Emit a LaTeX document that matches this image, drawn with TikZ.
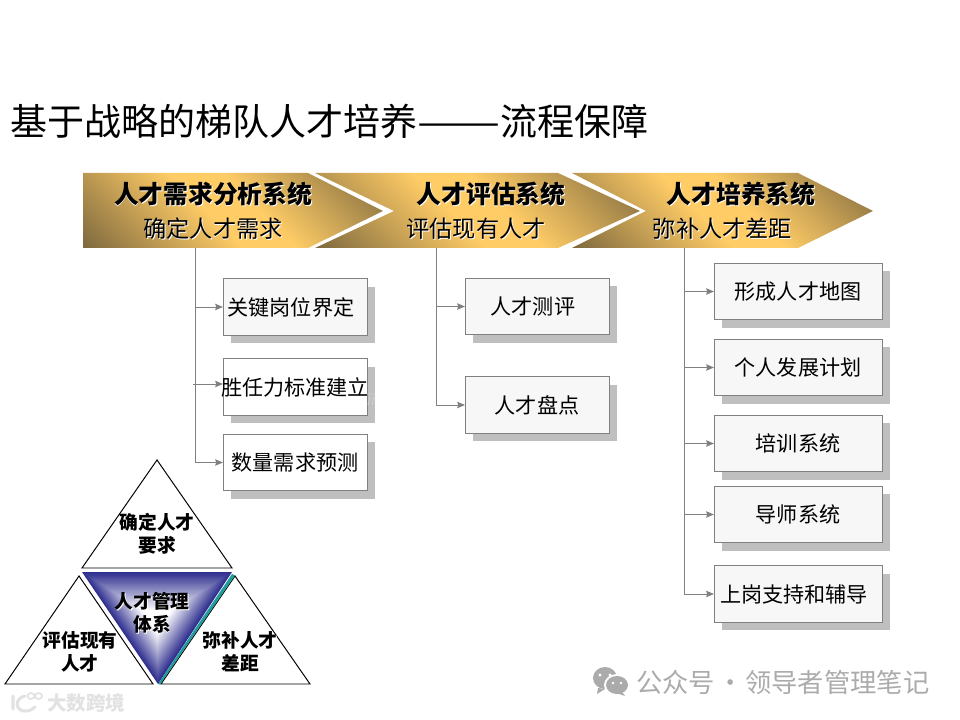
\documentclass[tikz,border=0pt]{standalone}
\usepackage{fontspec}
\setmainfont{Noto Sans CJK SC}
\usetikzlibrary{arrows.meta,shadows}
\definecolor{figGold}{HTML}{FFCC66}
\definecolor{figBrown}{HTML}{7F6A3F}
\definecolor{figLine}{HTML}{808080}
\definecolor{figShadow}{HTML}{BFBFBF}
\definecolor{figBlue}{HTML}{2E2E8F}
\definecolor{figTeal}{HTML}{1F9C9C}
\definecolor{figMark}{HTML}{ABABAB}
\definecolor{figBoxFill}{HTML}{F7F7F7}
\definecolor{figBoxGhost}{HTML}{E2E2E2}
\pgfdeclareverticalshading{goldband}{100bp}{color(0bp)=(figBrown); color(15bp)=(figBrown); color(45bp)=(figGold); color(55bp)=(figGold); color(85bp)=(figBrown); color(100bp)=(figBrown)}
\newcommand{\halotext}[1]{\rlap{\hspace{0.7pt}\raisebox{-0.7pt}{\textcolor{white}{#1}}}#1}
\tikzset{
  sysarrow/.style={shading=goldband,shading angle=-45},
  systitle/.style={font=\fontsize{17.6pt}{20pt}\selectfont\bfseries},
  syssub/.style={font=\fontsize{16.5pt}{20pt}\selectfont},
  stepbox/.style={draw=figLine,line width=0.6pt,fill=#1,inner sep=0pt,outer sep=0pt,minimum height=40.2pt,
    font=\fontsize{15pt}{18pt}\selectfont,
    general shadow={shadow xshift=5.7pt,shadow yshift=-5.7pt,fill=figShadow}},
  stepbox/.default=white,
  link/.style={->,draw=figLine,line width=0.7pt},
  tribox/.style={draw=black,line width=0.7pt,fill=white},
  trilabel/.style={align=center,inner sep=0pt,font=\fontsize{13.3pt}{16.4pt}\selectfont\bfseries},
}
\begin{document}
\begin{tikzpicture}[x=0.025cm,y=-0.025cm,>={Stealth[length=5.5pt,width=4.5pt,inset=0.6pt]}]
\useasboundingbox (0,0) rectangle (960,720);
% Title
\node[anchor=west,inner sep=0pt,font=\fontsize{26.3pt}{30pt}\selectfont] (title) at (10,121) {基于战略的梯队人才培养\scalebox{1.34}[1]{——}流程保障};
% Three system arrows
\shade[sysarrow] (83,173) -- (308,173) -- (383,211) -- (308,248) -- (83,248) -- cycle;
\shade[sysarrow] (315,173) -- (558,173) -- (640,211) -- (558,248) -- (315,248) -- (394,211) -- cycle;
\shade[sysarrow] (572,173) -- (798,173) -- (873,211) -- (798,248) -- (572,248) -- (646,211) -- cycle;
\node[systitle] (needT) at (213,195) {\halotext{人才需求分析系统}};
\node[syssub] (needS) at (213,229) {\halotext{确定人才需求}};
\node[systitle] (evalT) at (491,195) {\halotext{人才评估系统}};
\node[syssub] (evalS) at (476,229) {\halotext{评估现有人才}};
\node[systitle] (growT) at (741,195) {\halotext{人才培养系统}};
\node[syssub] (growS) at (722.5,229) {\halotext{弥补人才差距}};
% Trunk starts
\coordinate (needO) at (195,248);
\coordinate (evalO) at (436,248);
\coordinate (growO) at (684,248);
% Left column
\node[stepbox=figBoxFill,minimum width=102.4pt] (post) at (295,307) {\hspace{-5.7pt}关键岗位界定};
\node[stepbox,minimum width=102.4pt] (comp) at (295,387) {\makebox[0pt]{胜任力标准建立}};
\node[stepbox,minimum width=102.4pt] (count) at (295,462.5) {数量需求预测};
\coordinate (compO) at (193,384);
\draw[link] (needO) |- (post.west);
\draw[link] (compO) -- (compO -| comp.west);
\draw[link] (needO) |- (count.west);
\draw[figShadow!70!white,line width=0.6pt] (367,394) -- (375,394) (370,397) -- (368,405) (374,397) -- (372,405);
% Middle column
\node[stepbox=figBoxFill,minimum width=102.4pt] (test) at (537,306.5) {\hspace{-5.7pt}人才测评};
\node[stepbox=figBoxFill,minimum width=102.4pt] (stock) at (537,405) {人才盘点};
\draw[link] (evalO) |- (test.west);
\draw[link] (evalO) |- (stock.west);
% Right column
\node[stepbox=figBoxFill,minimum width=119.5pt] (map) at (798,291.5) {形成人才地图};
\node[stepbox=figBoxFill,minimum width=119.5pt] (plan) at (798,367.5) {个人发展计划};
\node[stepbox=figBoxFill,minimum width=119.5pt] (train) at (798,443.5) {培训系统};
\node[stepbox=figBoxFill,minimum width=119.5pt] (tutor) at (798,514.5) {导师系统};
\node[stepbox=figBoxFill,minimum width=119.5pt] (coach) at (798,594) {\hspace{-5.7pt}上岗支持和辅导};
\draw[link] (growO) |- (map.west);
\draw[link] (growO) |- (plan.west);
\draw[link] (growO) |- (train.west);
\draw[link] (growO) |- (tutor.west);
\draw[link] (growO) |- (coach.west);
% Triangles
\draw[tribox] (157,460) -- (82,568) -- (232,568) -- cycle;
\draw[tribox] (79,576) -- (5,684) -- (153,684) -- cycle;
\draw[tribox] (235,576) -- (161,684) -- (310,684) -- cycle;
\coordinate (coreC) at (157,620);
\foreach \k in {0,...,40} {
  \pgfmathsetmacro{\ratio}{1-\k/40}
  \pgfmathsetmacro{\tint}{max(0,min(100,(\ratio-0.2)/0.8*100))}
  \fill[figBlue!\tint!white,scale around={\ratio:(coreC)}] (82,572) -- (232,572) -- (158,684) -- cycle;
}
\fill[figTeal] (232,574) -- (235,575.5) -- (160,684.5) -- (158,684) -- cycle;
\node[trilabel] (triNeed) at (157,534.5) {\halotext{确定人才}\\\halotext{要求}};
\node[trilabel] (triEval) at (80,652) {\halotext{评估现有}\\\halotext{人才}};
\node[trilabel] (triCore) at (152,613.5) {\halotext{人才管理}\\\halotext{体系}};
\node[trilabel] (triGrow) at (240,652) {\halotext{弥补人才}\\\halotext{差距}};
% Marks
\fill[figMark] (605,678) ellipse [x radius=12,y radius=11];
\fill[figMark] (598,688) -- (597,694) -- (605,689) -- cycle;
\fill[white] (617,685) ellipse [x radius=13,y radius=11];
\fill[figMark] (617,685) ellipse [x radius=11,y radius=9];
\fill[figMark] (622,692) -- (625,696) -- (616,693) -- cycle;
\fill[white] (600,675) circle (1.7) (610,675) circle (1.7) (613,683) circle (1.4) (621,683) circle (1.4);
\node[anchor=west,inner sep=0pt,text=figMark,font=\fontsize{18.7pt}{22pt}\selectfont] (account) at (636,682) {公众号\hspace{1.4pt}·\hspace{1.4pt}领导者管理笔记};
\draw[figBoxGhost,line width=2.2pt,line cap=round] (13,696) -- (13,709) (25,696) .. controls (14,698) and (15,712) .. (26,711) .. controls (30,711) and (33,709) .. (35,707);
\draw[figBoxGhost,line width=1.2pt] (31,696) ellipse [x radius=3.5,y radius=3] (38.5,696) ellipse [x radius=3.5,y radius=3];
\node[anchor=west,inner sep=0pt,text=figBoxGhost,font=\fontsize{13.9pt}{16pt}\selectfont\bfseries] (brand) at (47,703) {大数跨境};
\end{tikzpicture}
\end{document}
